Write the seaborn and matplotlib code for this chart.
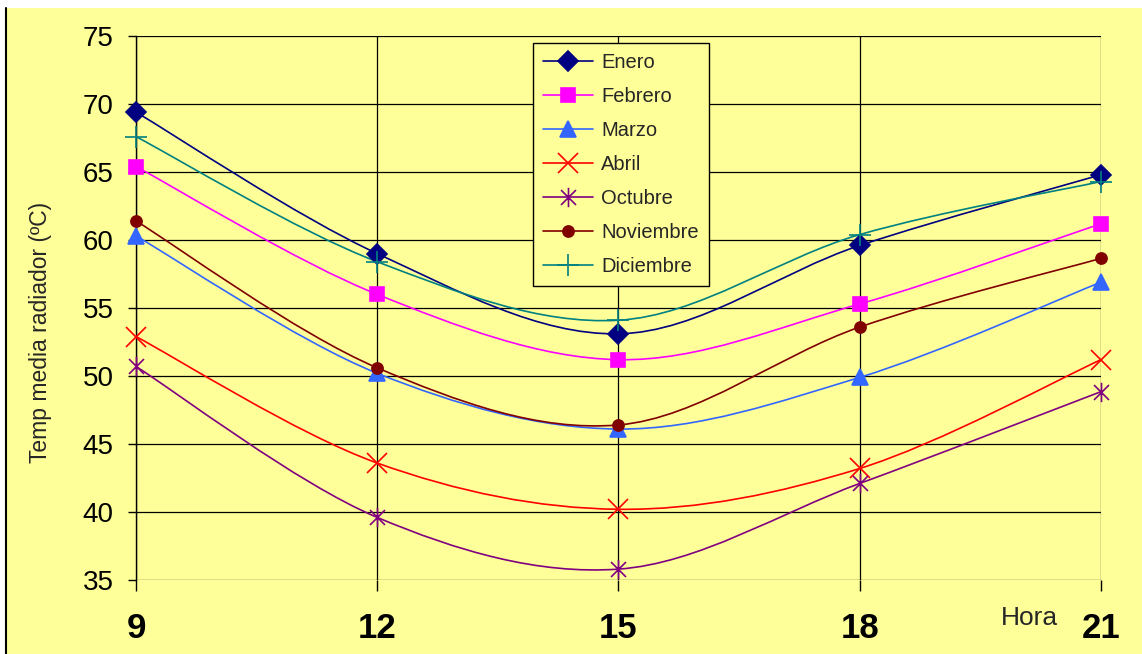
import numpy as np
import pandas as pd
import matplotlib
matplotlib.use("Agg")
import matplotlib.pyplot as plt
import seaborn as sns
from matplotlib.path import Path
from matplotlib.patches import PathPatch, Rectangle
from matplotlib.lines import Line2D

# Datos
horas = [9, 12, 15, 18, 21]
enero = [69.4, 59.0, 53.1, 59.6, 64.8]
febrero = [65.4, 56.0, 51.2, 55.3, 61.2]
marzo = [60.3, 50.2, 46.1, 49.9, 56.9]
abril = [52.9, 43.6, 40.2, 43.2, 51.2]
octubre = [50.7, 39.6, 35.8, 42.1, 48.85]
noviembre = [61.4, 50.6, 46.4, 53.6, 58.65]
diciembre = [67.6, 58.4, 54.1, 60.4, 64.3]

meses = ["Enero", "Febrero", "Marzo", "Abril", "Octubre", "Noviembre", "Diciembre"]
valores = [enero, febrero, marzo, abril, octubre, noviembre, diciembre]

# marcador asterisco (x + vertical) como en Excel
asterisco = Path(
    [(-1, -1), (1, 1), (-1, 1), (1, -1), (0, -1.3), (0, 1.3)],
    [Path.MOVETO, Path.LINETO, Path.MOVETO, Path.LINETO, Path.MOVETO, Path.LINETO],
)

estilos = {
    "Enero": dict(color="#000080", marker="D", ms=10, mfc="#000080"),
    "Febrero": dict(color="#FF00FF", marker="s", ms=10, mfc="#FF00FF"),
    "Marzo": dict(color="#3366FF", marker="^", ms=11, mfc="#3366FF"),
    "Abril": dict(color="#FF0000", marker="x", ms=14, mfc="none"),
    "Octubre": dict(color="#800080", marker=asterisco, ms=14, mfc="none"),
    "Noviembre": dict(color="#800000", marker="o", ms=8, mfc="#800000"),
    "Diciembre": dict(color="#008080", marker="+", ms=16, mfc="none"),
}

AMARILLO = "#FFFF99"

df = pd.DataFrame(
    [(m, h, v) for m, serie in zip(meses, valores) for h, v in zip(horas, serie)],
    columns=["mes", "hora", "temp"],
)

sns.set_theme(style="white", rc={
    "xtick.bottom": True, "ytick.left": True,
    "xtick.major.size": 8, "ytick.major.size": 6,
    "xtick.color": "black", "ytick.color": "black",
})
plt.rcParams["font.family"] = ["Liberation Sans", "DejaVu Sans"]

fig = plt.figure(figsize=(11.42, 6.54), dpi=100)
fig.patch.set_facecolor(AMARILLO)
# franja blanca superior y borde izquierdo
fig.patches.append(Rectangle((0, 1 - 8 / 654), 1, 8 / 654, transform=fig.transFigure,
                             facecolor="white", edgecolor="none", zorder=0))
fig.patches.append(Rectangle((0, 0), 5 / 1142, 1, transform=fig.transFigure,
                             facecolor="white", edgecolor="none", zorder=0))
fig.lines.append(Line2D([5.5 / 1142, 5.5 / 1142], [0, 1 - 8 / 654], transform=fig.transFigure,
                        color="black", lw=1.5))

ax = fig.add_axes([136 / 1142, 1 - 580 / 654, 965 / 1142, 544 / 654])
ax.set_facecolor(AMARILLO)


def curva_suave(xs, ys):
    """Curva tipo Excel (Bezier con tensión 1/6)."""
    pts = np.column_stack([xs, ys]).astype(float)
    n = len(pts)
    verts = [pts[0]]
    codes = [Path.MOVETO]
    for i in range(n - 1):
        p0 = pts[max(i - 1, 0)]
        p1 = pts[i]
        p2 = pts[i + 1]
        p3 = pts[min(i + 2, n - 1)]
        c1 = p1 + (p2 - p0) / 6
        c2 = p2 - (p3 - p1) / 6
        verts += [c1, c2, p2]
        codes += [Path.CURVE4] * 3
    return Path(verts, codes)


handles = []
for mes in meses:
    st = estilos[mes]
    sub = df[df["mes"] == mes]
    ax.add_patch(PathPatch(curva_suave(sub["hora"], sub["temp"]), facecolor="none",
                           edgecolor=st["color"], lw=1.2, zorder=3))
    sns.lineplot(data=sub, x="hora", y="temp", ax=ax, color=st["color"], lw=0,
                 marker=st["marker"], markersize=st["ms"], markerfacecolor=st["mfc"],
                 markeredgecolor=st["color"], markeredgewidth=1.2, zorder=4,
                 legend=False, clip_on=False)
    handles.append(Line2D([], [], color=st["color"], lw=1.2, marker=st["marker"],
                          markersize=st["ms"], markerfacecolor=st["mfc"],
                          markeredgecolor=st["color"], markeredgewidth=1.2))

ax.set_xlim(9, 21)
ax.set_ylim(35, 75)
ax.set_xticks(horas)
ax.set_xticklabels([str(h) for h in horas], fontsize=25, fontweight="bold")
ax.set_yticks(range(35, 80, 5))
ax.tick_params(axis="y", labelsize=20, direction="out", length=6, width=1, color="black", pad=10)
ax.tick_params(axis="x", direction="out", length=8, width=1, color="black", pad=15,
               bottom=True)
ax.grid(True, color="black", lw=0.9)
ax.set_axisbelow(True)
for lado in ["top", "right", "bottom"]:
    ax.spines[lado].set_visible(False)
ax.spines["left"].set_color("black")
ax.spines["left"].set_linewidth(1)

ax.set_xlabel("")
ax.set_ylabel("Temp media radiador (ºC)", fontsize=16.5)
ax.yaxis.set_label_coords(-84 / 965, (580 - 332) / 544)
ax.text(1029 / 1142, 1 - 618 / 654, "Hora", transform=fig.transFigure, fontsize=19,
        ha="center", va="center")

leg = ax.legend(handles, meses, loc="upper left", bbox_to_anchor=(0.411, 0.987),
                borderaxespad=0, fontsize=14.5, frameon=True, fancybox=False,
                facecolor=AMARILLO, edgecolor="black", framealpha=1,
                handlelength=2.5, labelspacing=0.74, handletextpad=0.4,
                borderpad=0.5)
leg.get_frame().set_linewidth(1)
leg.set_zorder(10)

fig.savefig("out.png", dpi=100, facecolor=fig.get_facecolor())
